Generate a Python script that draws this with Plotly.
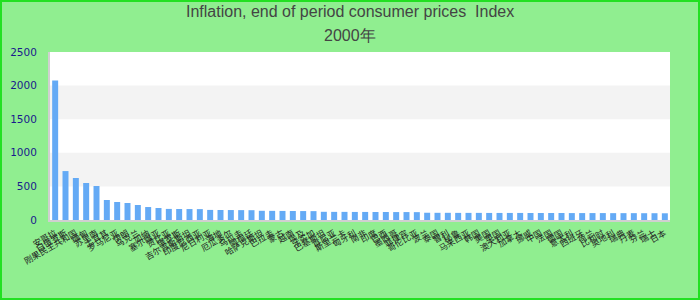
import plotly.graph_objects as go

countries = ["安哥拉", "白俄罗斯", "刚果民主共和国", "缅甸", "苏里南", "土耳其", "罗马尼亚", "伊朗",
             "乌克兰", "加纳", "塞尔维亚", "赞比亚", "俄罗斯", "吉尔吉斯斯坦", "印度尼西亚", "尼日利亚",
             "海地", "厄瓜多尔", "乌拉圭", "阿根廷", "哈萨克斯坦", "巴拉圭", "蒙古", "越南",
             "埃及", "牙买加", "巴基斯坦", "肯尼亚", "斯里兰卡", "匈牙利", "南非", "印度",
             "巴西", "墨西哥", "菲律宾", "哥伦比亚", "波兰", "泰国", "智利", "秘鲁",
             "马来西亚", "韩国", "美国", "英国", "澳大利亚", "加拿大", "挪威", "中国",
             "法国", "德国", "意大利", "西班牙", "荷兰", "比利时", "奥地利", "瑞典",
             "丹麦", "芬兰", "瑞士", "日本"]
values = [2077, 728, 625, 551, 506, 298, 268, 253, 223, 193, 179, 165, 164, 163, 162,
          150, 149, 148, 147, 146,
          137, 136, 135, 134, 133, 132,
          122, 121, 121, 120, 120, 119, 119, 118, 118, 117,
          108, 107, 107, 106, 106, 106, 105, 105, 105, 105, 104, 104, 104, 104,
          103, 103, 103, 103, 102, 102, 102, 101, 101, 100]
y_ticks = [0, 500, 1000, 1500, 2000, 2500]
bands = [(500, 1000), (1500, 2000)]
title_lines = ["Inflation, end of period consumer prices  Index", "2000年"]

W, H = 700, 300
L, R, T, B = 50, 30, 52, 80
pw, ph = W - L - R, H - T - B

fig = go.Figure(go.Bar(x=countries, y=values, marker_color="#64aaf5",
                       marker_line_width=0))

shapes = []
for y0, y1 in bands:
    shapes.append(dict(type="rect", xref="paper", yref="y", x0=0, x1=1, y0=y0, y1=y1,
                       fillcolor="#f3f3f3", line_width=0, layer="below"))
# outer border
shapes.append(dict(type="rect", xref="paper", yref="paper",
                   x0=(-L + 1) / pw, x1=(pw + R - 1) / pw,
                   y0=(-B + 1) / ph, y1=(ph + T - 1) / ph,
                   line=dict(color="#22e022", width=2), fillcolor="rgba(0,0,0,0)"))

def ypix(p):
    return (H - B - p) / ph

annotations = []
for text, py in zip(title_lines, [12, 36]):
    annotations.append(dict(text=text, xref="paper", yref="paper",
                            x=(W / 2 - L) / pw, y=ypix(py), xanchor="center", yanchor="middle",
                            showarrow=False,
                            font=dict(family="Liberation Sans", size=16, color="#444444")))

fig.update_layout(
    width=W, height=H,
    margin=dict(l=L, r=R, t=T, b=B),
    paper_bgcolor="#90ee90", plot_bgcolor="#ffffff",
    bargap=0.42,
    showlegend=False,
    shapes=shapes,
    annotations=annotations,
    xaxis=dict(type="category", tickmode="linear", dtick=1, tickangle=-30,
               tickfont=dict(family="Noto Sans CJK SC", size=8.5, color="#222222"),
               showline=True, linecolor="#d0d0d0", linewidth=2, showgrid=False,
               ticks="outside", ticklen=3, tickcolor="rgba(0,0,0,0)", automargin=False),
    yaxis=dict(range=[0, 2500], tickvals=y_ticks, showgrid=False, zeroline=False,
               showline=True, linecolor="#d0d0d0", linewidth=2,
               tickfont=dict(family="DejaVu Sans", size=10.5, color="#1a1a8c"),
               ticks="outside", ticklen=9, tickcolor="rgba(0,0,0,0)", automargin=False),
)

fig.write_html("out.html")
